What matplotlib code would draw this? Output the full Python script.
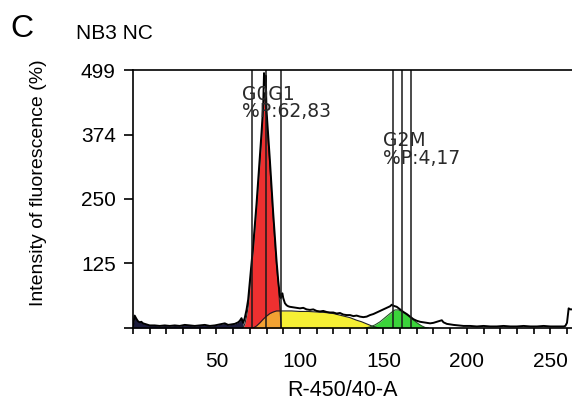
import numpy as np
import matplotlib
matplotlib.use('Agg')
import matplotlib.pyplot as plt

plt.rcParams['font.family'] = ['Liberation Sans', 'DejaVu Sans']

# measured histogram (black outline)
hist_x = [0, 1, 2, 3, 4, 5, 6, 8, 10, 13, 16, 19, 22, 25, 28, 31, 34, 37, 40, 43, 46, 49,
          52, 55, 57, 59, 61, 63, 64, 65, 66, 67, 68, 69, 70, 71, 72, 73, 74, 75, 76, 77, 78,
          78.5, 79, 79.5, 80, 81, 82, 83, 84, 85, 86, 87, 88, 88.5, 89, 89.5, 90, 91, 92, 93,
          94, 96, 98, 100, 102, 104, 106, 108, 110, 112, 114, 116, 118, 120, 122, 124, 126,
          128, 130, 132, 134, 136, 138, 140, 142, 144, 146, 148, 150, 152, 154, 155, 156, 158,
          160, 162, 164, 166, 168, 170, 172, 174, 176, 178, 180, 182, 184, 185, 186, 188, 190,
          192, 195, 198, 202, 206, 210, 214, 218, 222, 226, 230, 234, 238, 242, 246, 250, 254,
          258, 259, 260, 261, 262, 263]
hist_y = [4, 24, 18, 13, 11, 12, 9, 7, 5, 5, 4, 5, 4, 5, 4, 6, 5, 4, 5, 6, 4, 5,
          7, 9, 6, 7, 8, 11, 14, 19, 10, 20, 35, 55, 90, 125, 160, 200, 240, 285, 330, 378, 430,
          493, 470, 488, 420, 372, 325, 272, 222, 175, 130, 92, 62, 58, 66, 67, 58, 48, 44, 42,
          41, 40, 39, 38, 39, 36, 35, 36, 33, 32, 33, 31, 30, 30, 28, 29, 26,
          25, 25, 23, 24, 22, 21, 22, 25, 27, 30, 33, 36, 39, 42, 45, 43, 41,
          36, 31, 27, 22, 17, 14, 12, 11, 10, 9, 10, 12, 14, 15, 11, 8, 7,
          6, 5, 4, 4, 3, 4, 3, 3, 4, 3, 3, 4, 3, 3, 4, 3, 3,
          3, 4, 10, 38, 36, 36]

# fitted components
g0g1_x = [66, 67, 68, 69, 70, 71, 72, 73, 74, 75, 76, 77, 78, 78.8, 80, 81, 82, 83, 84, 85,
          86, 87, 88, 88.8]
g0g1_y = [0, 8, 22, 41, 80, 118, 150, 190, 232, 275, 318, 365, 420, 455, 410, 360, 315, 262,
          212, 165, 120, 85, 40, 0]
s_x = [72, 74, 76, 78, 80, 82, 84, 86, 90, 95, 100, 105, 110, 115, 120, 125, 130, 134, 137,
       140, 143, 146, 148]
s_y = [0, 4, 10, 17, 23, 28, 31, 33, 33, 33, 32, 32, 31, 30, 28, 24, 20, 15, 12, 8, 4, 1, 0]
g2m_x = [139, 142, 145, 148, 151, 154, 156, 157, 159, 161, 163, 165, 167, 169, 171, 173, 175, 177]
g2m_y = [0, 2, 6, 12, 20, 28, 33, 35, 35, 32, 28, 23, 18, 13, 8, 4, 1, 0]

g0g1_gates = [71, 79.4, 88.4]
g2m_gates = [155.5, 161, 166.4]

x_major = [50, 100, 150, 200, 250]
x_minor = list(range(0, 261, 10))
y_ticks = [0, 125, 250, 374, 499]
y_labels = ['', '125', '250', '374', '499']

fig = plt.figure(figsize=(5.72, 4), dpi=100)
ax = fig.add_axes([133 / 572, 72 / 400, 439 / 572, 258 / 400])

hx = np.array(hist_x)
hy = np.array(hist_y)
left = hx <= 66
ax.fill_between(hx[left], 0, hy[left], color='#1c1c3c', lw=0)

ax.fill_between(s_x, 0, s_y, color='#f6f034', lw=0)
ax.fill_between(g0g1_x, 0, g0g1_y, color='#ee3030', lw=0)
ax.fill_between(s_x, 0, s_y, color='#f6f034', alpha=0.6, lw=0)
ax.fill_between(g2m_x, 0, g2m_y, color='#3ad43a', lw=0)
ax.plot(s_x, s_y, color='#222222', lw=0.8)
ax.plot(g0g1_x, g0g1_y, color='#222222', lw=0.8)
ax.plot(g2m_x, g2m_y, color='#225522', lw=0.8)

ax.plot(hist_x, hist_y, color='black', lw=1.4)

for g in g0g1_gates + g2m_gates:
    ax.axvline(g, color='#1a1a1a', lw=1.1)

ann = dict(fontsize=13.5, family='DejaVu Sans', color='#2a2a2a')
ax.text(65.5, 441, 'G0G1', **ann)
ax.text(65.5, 408, '%P:62,83', **ann)
ax.text(149.7, 352, 'G2M', **ann)
ax.text(149.7, 318, '%P:4,17', **ann)

ax.set_xlim(0, 263)
ax.set_ylim(0, 499)
ax.set_xticks(x_major)
ax.set_xticks(x_minor, minor=True)
ax.set_yticks(y_ticks)
ax.set_yticklabels(y_labels)
ax.tick_params(axis='x', which='both', direction='out', length=4, width=1.2, pad=13, labelsize=15)
ax.tick_params(axis='y', direction='out', length=6.5, width=1.2, pad=6, labelsize=15)
ax.spines['right'].set_visible(False)
for s in ['left', 'top', 'bottom']:
    ax.spines[s].set_linewidth(1.2)

ax.set_xlabel('R-450/40-A', fontsize=15.5)
ax.xaxis.set_label_coords(0.478, -0.2)
ax.set_ylabel('Intensity of fluorescence (%)', fontsize=14)
ax.yaxis.set_label_coords(-0.196, 0.562)

fig.text(10 / 572, 1 - 37 / 400, 'C', fontsize=23, va='baseline')
fig.text(76 / 572, 1 - 39 / 400, 'NB3 NC', fontsize=15, va='baseline')

plt.savefig('out.png', dpi=100)
